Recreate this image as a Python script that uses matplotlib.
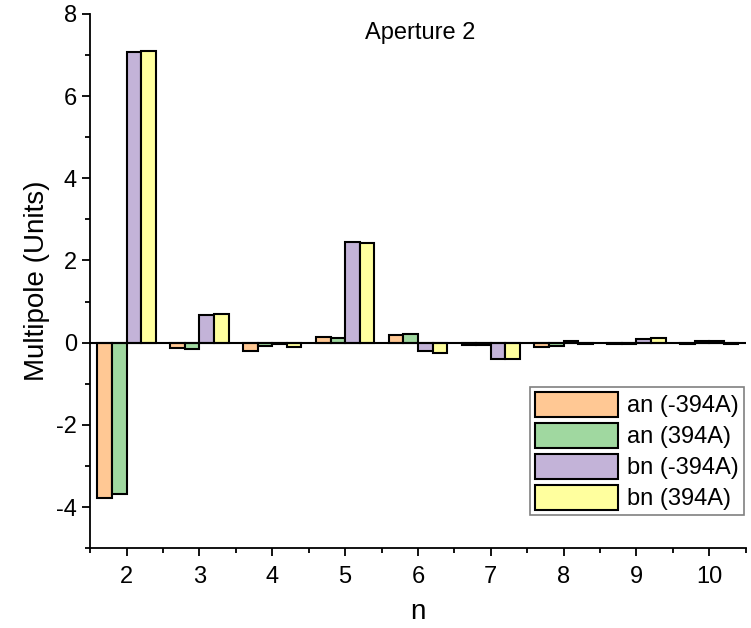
import matplotlib
matplotlib.use("Agg")
import matplotlib.pyplot as plt
import numpy as np
from matplotlib.ticker import MultipleLocator

n = [2, 3, 4, 5, 6, 7, 8, 9, 10]
an_neg = [-3.78, -0.14, -0.19, 0.13, 0.19, -0.06, -0.11, -0.02, -0.02]
an_pos = [-3.68, -0.16, -0.07, 0.11, 0.22, -0.05, -0.08, -0.03, 0.03]
bn_neg = [7.07, 0.67, -0.02, 2.44, -0.20, -0.40, 0.03, 0.09, 0.05]
bn_pos = [7.09, 0.70, -0.10, 2.42, -0.25, -0.39, -0.04, 0.11, -0.03]
labels = ["an (-394A)", "an (394A)", "bn (-394A)", "bn (394A)"]
colors = ["#FFC894", "#A0D8A0", "#C3B3D8", "#FFFF9E"]

plt.rcParams['font.family'] = ['Liberation Sans', 'DejaVu Sans']
plt.rcParams['axes.unicode_minus'] = False
fig = plt.figure(figsize=(7.51, 6.28), dpi=100)
ax = fig.add_axes([0.12, 0.127, 0.873, 0.851])

x = np.array(n, dtype=float)
w = 0.2
series = [an_neg, an_pos, bn_neg, bn_pos]
offsets = [-0.3, -0.1, 0.1, 0.3]
for s, off, c, lab in zip(series, offsets, colors, labels):
    ax.bar(x + off, s, width=w, color=c, edgecolor='black', linewidth=1.5, label=lab, zorder=2)

ax.axhline(0, color='black', linewidth=1.5, zorder=3)
ax.set_xlim(1.5, 10.5)
ax.set_ylim(-5, 8)
ax.set_xticks(n)
ax.xaxis.set_minor_locator(MultipleLocator(0.5))
ax.yaxis.set_major_locator(MultipleLocator(2))
ax.yaxis.set_minor_locator(MultipleLocator(1))
for sp in ['top', 'right']:
    ax.spines[sp].set_visible(False)
for sp in ['left', 'bottom']:
    ax.spines[sp].set_linewidth(1.3)
ax.tick_params(which='major', direction='out', length=6, width=1.3, labelsize=17)
ax.tick_params(which='minor', direction='out', length=3.5, width=1.3)
ax.tick_params(axis='x', pad=7)
ax.set_xlabel('n', fontsize=20, labelpad=8)
ax.set_ylabel('Multipole (Units)', fontsize=20, labelpad=4)
ax.text(0.503, 0.985, 'Aperture 2', transform=ax.transAxes, ha='center', va='top', fontsize=17)

leg = ax.legend(loc='lower right', bbox_to_anchor=(0.997, 0.062), fontsize=17,
                frameon=True, fancybox=False, edgecolor='#808080', framealpha=1,
                handlelength=3.5, handleheight=1.3, handletextpad=0.4,
                labelspacing=0.22, borderpad=0.2, borderaxespad=0)
leg.get_frame().set_linewidth(1.2)

fig.savefig('out.png', dpi=100)
